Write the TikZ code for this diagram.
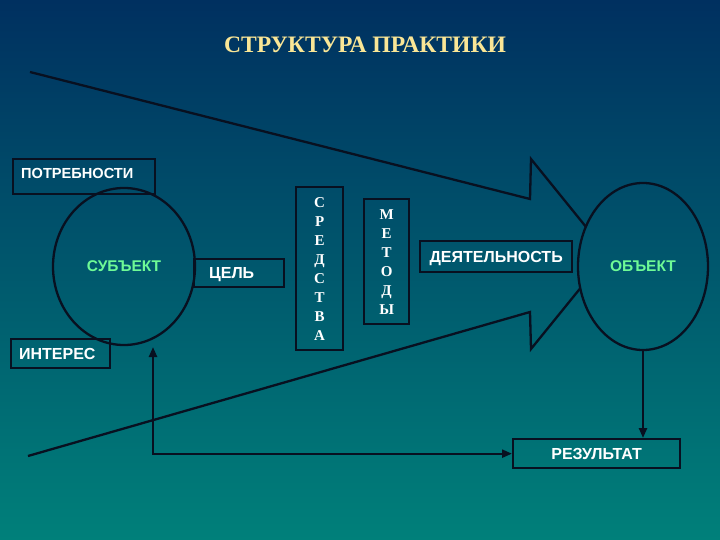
\documentclass[tikz,border=0pt]{standalone}
\usepackage{fontspec}
\setmainfont{Liberation Serif}
\setsansfont{Liberation Sans}
\usetikzlibrary{shapes.geometric,arrows.meta,intersections}
\definecolor{bgtop}{RGB}{0,48,96}
\definecolor{bgbot}{RGB}{0,128,122}
\definecolor{lc}{RGB}{8,16,32}
\definecolor{ttl}{RGB}{250,230,150}
\definecolor{grn}{RGB}{110,250,150}
\tikzset{
  mytip/.tip={Triangle[length=10pt,width=8pt]},
  lk/.style={draw=lc, line width=2.3pt},
  box/.style={lk, rectangle, inner sep=0pt, anchor=north west, text height=11.5pt, text depth=0pt,
    font=\sffamily\bfseries\fontsize{16}{18}\selectfont, text=white},
  vbox/.style={lk, rectangle, inner sep=0pt, anchor=north west, align=center,
    font=\rmfamily\bfseries\fontsize{15}{19}\selectfont, text=white},
  oval/.style={lk, ellipse, inner sep=0pt, font=\sffamily\bfseries\fontsize{15.5}{18}\selectfont, text=grn},
  arr/.style={lk, -{mytip}},
}
\begin{document}
\begin{tikzpicture}[x=1pt,y=-1pt]
\shade[top color=bgtop,bottom color=bgbot] (0,0) rectangle (720,540);
\useasboundingbox (0,0) rectangle (720,540);

\node[font=\rmfamily\bfseries\fontsize{23.6}{26}\selectfont, text=ttl] (title) at (365,45) {СТРУКТУРА ПРАКТИКИ};

% big arrow
\path[name path=objp] (643,266.5) ellipse [x radius=65, y radius=83.5];
\path[name path=up] (531,159) -- (608,254);
\path[name path=lo] (608,254) -- (531,349);
\path[name intersections={of=up and objp, by=iu}];
\path[name intersections={of=lo and objp, by=il}];
\draw[lk, line join=miter] (30,72) -- (530,199) -- (531,159) -- (iu);
\draw[lk, line join=miter] (il) -- (531,349) -- (530,312) -- (28,456);

% boxes
\node[box, minimum height=35, text width=126pt, inner xsep=8pt, align=left, text depth=7pt,
  font=\sffamily\bfseries\fontsize{14.6}{18}\selectfont] (need) at (12,158) {ПОТРЕБНОСТИ};
\node[box, minimum height=28, text width=60pt, inner xsep=15pt, align=left] (goal) at (193,258) {ЦЕЛЬ};
\node[vbox, minimum width=47, minimum height=163] (means) at (295,186) {С\\Р\\Е\\Д\\С\\Т\\В\\А};
\node[vbox, minimum width=45, minimum height=125] (meth) at (363,198) {М\\Е\\Т\\О\\Д\\Ы};
\node[box, minimum width=152, minimum height=31] (act) at (419,240) {ДЕЯТЕЛЬНОСТЬ};
\node[box, minimum height=29, text width=83pt, inner xsep=8pt, align=left] (inter) at (10,338) {ИНТЕРЕС};
\node[box, minimum width=167, minimum height=29] (res) at (512,438) {РЕЗУЛЬТАТ};

% ellipses
\node[oval, minimum width=142, minimum height=157] (subj) at (124,266.5) {СУБЪЕКТ};
\node[oval, minimum width=130, minimum height=167] (obj) at (643,266.5) {ОБЪЕКТ};

% connectors
\draw[arr] (obj.south) -- (obj.south |- res.north);
\coordinate (fbtip) at (153,347);
\draw[lk, {mytip}-{mytip}] (fbtip) |- (res.west);
\end{tikzpicture}
\end{document}
